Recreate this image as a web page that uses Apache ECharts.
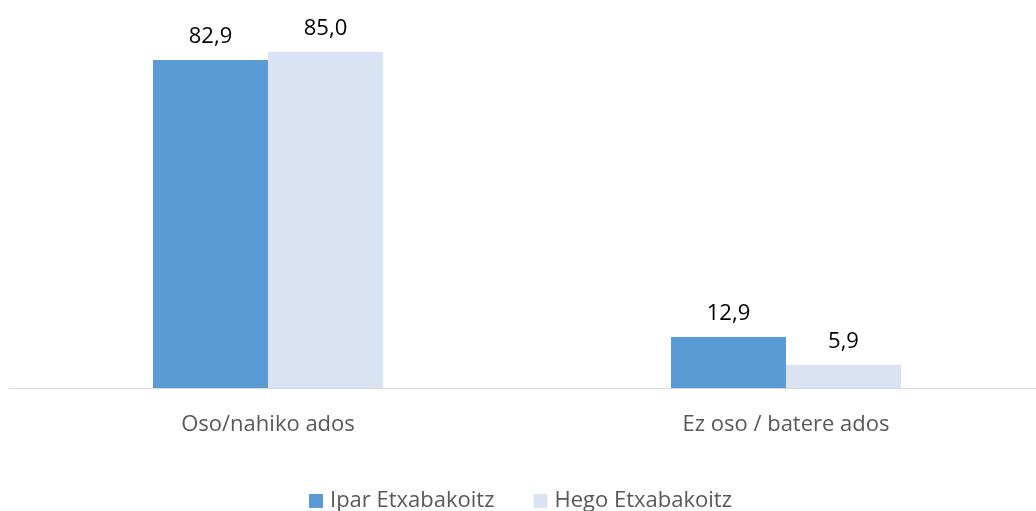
<!DOCTYPE html>
<html>
<head>
<meta charset="utf-8">
<script src="https://cdn.jsdelivr.net/npm/echarts@6/dist/echarts.min.js"></script>
<style>
  html, body { margin: 0; padding: 0; background: #fff; overflow: hidden; }
  /* the axis runs a little past the right edge in the original, so the canvas is wider than the window */
  #chart { width: 1054px; height: 511px; }
</style>
</head>
<body>
<div id="chart"></div>
<script>
const categories = ['Oso/nahiko ados', 'Ez oso / batere ados'];
const seriesNames = ['Ipar Etxabakoitz', 'Hego Etxabakoitz'];
const iparValues = [82.9, 12.9];
const hegoValues = [85.0, 5.9];
const colors = ['#5B9BD5', '#DAE3F3'];

const chart = echarts.init(document.getElementById('chart'));
const font = '"Open Sans", sans-serif';

const fmt = p => p.value.toFixed(1).replace('.', ',');

const option = {
  animation: false,
  color: colors,
  textStyle: { fontFamily: font },
  grid: { left: 9, right: 9, top: 32, bottom: 123, containLabel: false },
  legend: {
    top: 485,
    left: 304,
    itemWidth: 14,
    itemHeight: 14,
    itemGap: 39,
    icon: 'rect',
    textStyle: { fontFamily: font, fontSize: 22, color: '#595959', padding: [0, 0, 0, 2] },
    data: seriesNames
  },
  xAxis: {
    type: 'category',
    data: categories,
    axisLine: { lineStyle: { color: '#D9D9D9', width: 1 } },
    axisTick: { show: false },
    axisLabel: { fontFamily: font, fontSize: 22, color: '#595959', margin: 26 }
  },
  yAxis: {
    type: 'value',
    min: 0,
    max: 90,
    show: false,
    splitLine: { show: false }
  },
  series: [
    {
      name: seriesNames[0],
      type: 'bar',
      data: iparValues,
      barWidth: 115,
      barGap: '0%',
      label: { show: true, position: 'top', distance: 12, formatter: fmt, fontFamily: font, fontSize: 22, color: '#000' }
    },
    {
      name: seriesNames[1],
      type: 'bar',
      data: hegoValues,
      barWidth: 115,
      barGap: '0%',
      label: { show: true, position: 'top', distance: 12, formatter: fmt, fontFamily: font, fontSize: 22, color: '#000' }
    }
  ]
};

chart.setOption(option);
window.addEventListener('resize', () => chart.resize());
</script>
</body>
</html>
